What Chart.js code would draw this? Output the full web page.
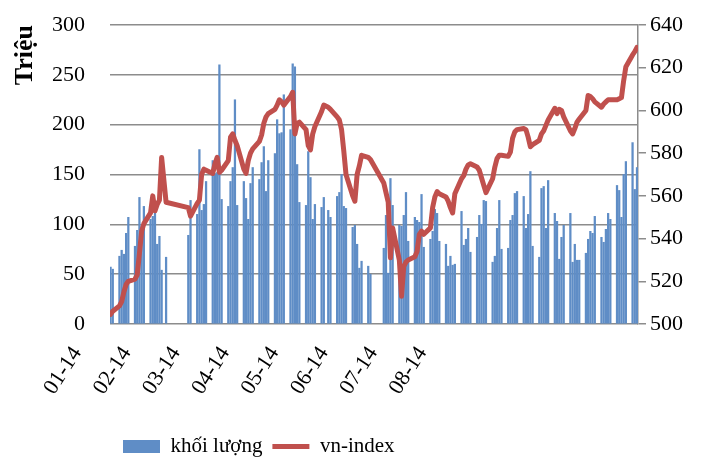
<!DOCTYPE html>
<html>
<head>
<meta charset="utf-8">
<script src="https://cdn.jsdelivr.net/npm/chart.js@4/dist/chart.umd.min.js"></script>
<style>
  html, body { margin: 0; padding: 0; background: #fff; overflow: hidden; }
  canvas { display: block; }
</style>
</head>
<body>
<canvas id="chart" width="715" height="467"></canvas>
<script>
// Ngày giao dịch năm 2014 (tháng-ngày)
const ngay = [
  '01-02','01-03','01-06','01-07','01-08','01-09','01-10','01-13','01-14','01-15','01-16','01-17',
  '01-20','01-21','01-22','01-23','01-24','01-25','01-27',
  '02-06','02-07','02-10','02-11','02-12','02-13','02-14','02-17','02-18','02-19','02-20','02-21',
  '02-24','02-25','02-26','02-27','02-28',
  '03-03','03-04','03-05','03-06','03-07','03-10','03-11','03-12','03-13','03-14',
  '03-17','03-18','03-19','03-20','03-21','03-24','03-25','03-26','03-27','03-28','03-31',
  '04-01','04-02','04-03','04-04','04-07','04-08','04-10','04-11','04-14','04-15','04-16','04-17','04-18',
  '04-21','04-22','04-23','04-24','04-25','04-28','04-29',
  '05-05','05-06','05-07','05-08','05-09','05-12','05-13','05-14','05-15','05-16',
  '05-19','05-20','05-21','05-22','05-23','05-26','05-27','05-28','05-29','05-30',
  '06-02','06-03','06-04','06-05','06-06','06-09','06-10','06-11','06-12','06-13',
  '06-16','06-17','06-18','06-19','06-20','06-23','06-24','06-25','06-26','06-27',
  '06-30','07-01','07-02','07-03','07-04','07-07','07-08','07-09','07-10','07-11',
  '07-14','07-15','07-16','07-17','07-18','07-21','07-22','07-23','07-24','07-25',
  '07-28','07-29','07-30','07-31','08-01','08-04','08-05','08-06','08-07','08-08',
  '08-11','08-12','08-13','08-14','08-15','08-18','08-19','08-20','08-21','08-22',
  '08-25','08-26','08-27'
];

// Khối lượng (triệu cổ phiếu)
const khoiLuong = [
  57, 55, 68, 74, 70, 91, 107, 78, 94, 127, 98, 118,
  105, 108, 115, 80, 88, 54, 67,
  89, 124, 110, 175, 114, 120, 143, 164, 151, 152, 260, 125,
  118, 143, 157, 225, 119,
  143, 126, 105, 141, 157, 145, 162, 178, 133, 164,
  171, 205, 191, 192, 230, 195, 261, 258, 160, 122, 119,
  173, 147, 105, 120, 117, 127, 114, 107, 128, 132, 150, 118, 116,
  97, 99, 80, 56, 63, 58, 50,
  76, 109, 51, 146, 119, 99, 98, 109, 132, 83,
  107, 104, 102, 130, 77, 85, 93, 115, 111, 83,
  80, 58, 68, 59, 60, 113, 79, 85, 96, 72,
  87, 109, 100, 124, 123, 62, 68, 96, 124, 75,
  76, 104, 109, 131, 133, 128, 96, 110, 153, 78,
  67, 136, 138, 96, 144, 111, 103, 65, 87, 99,
  111, 62, 80, 64, 64, 71, 85, 93, 91, 108,
  87, 82, 95, 111, 105, 139, 134, 107, 150, 163,
  182, 135, 157
];

// VN-Index (điểm)
const vnIndex = [
  504.5, 506, 508.5, 510.5, 515, 518.5, 520, 521, 523, 533, 543.5, 547,
  552, 560, 553, 556, 558, 578, 557,
  554.5, 550.5, 556.5, 558, 570, 572.5, 572, 570.5, 575, 578, 571, 572,
  576.5, 587.5, 589, 586, 583.5,
  572.5, 570.5, 576.5, 580, 582, 585.5, 588.5, 594, 597, 598.5,
  600.5, 602.5, 605, 604, 602.5, 606.5, 608.5, 589, 594, 594.5, 591,
  583.5, 581.5, 589, 592.5, 599.5, 602.5, 601.5, 600.5, 597, 595.5, 591, 581, 570,
  560, 557.5, 570, 574, 579, 578, 577,
  566, 561.5, 557, 531, 545, 530, 513, 527, 529, 530,
  531.5, 534, 542, 543.5, 542, 545, 554.5, 559.5, 562, 561,
  559.5, 557.5, 554.5, 552, 561, 568, 569.5, 572.5, 574.5, 575,
  573.5, 572, 568.5, 565, 561.5, 568, 573.5, 577.5, 579, 579,
  578.5, 580.5, 587, 590, 591, 591.5, 591, 587.5, 583, 584,
  586, 589, 590.5, 593, 595.5, 601, 598.5, 600.5, 600, 597,
  590.5, 589, 591.5, 594.5, 596, 600, 607, 606.5, 605.5, 604,
  601.5, 603, 604, 605, 605, 605, 605.5, 606, 614, 620.5,
  626, 627.5, 629.5
];

const nhanTrucX = ['01-14', '02-14', '03-14', '04-14', '05-14', '06-14', '07-14', '08-14'];

const serif = "'Liberation Serif', 'Times New Roman', serif";
Chart.defaults.font.family = serif;
Chart.defaults.color = '#000';

// số ngày tính từ 01-01-2014
function soNgay(md) {
  const [m, d] = md.split('-').map(Number);
  return (Date.UTC(2014, m - 1, d) - Date.UTC(2014, 0, 1)) / 86400000;
}
const xNgay = ngay.map(soNgay);

// dời chú giải sang trái như hình gốc
const dichChuGiai = {
  id: 'dichChuGiai',
  afterLayout(chart) {
    const lg = chart.legend;
    const w = lg.right - lg.left;
    lg.left = 113;
    lg.right = lg.left + w;
  }
};

const ctx = document.getElementById('chart').getContext('2d');
new Chart(ctx, {
  type: 'bar',
  data: {
    datasets: [{
      type: 'bar',
      label: 'khối lượng',
      data: xNgay.map((x, i) => ({ x: x, y: khoiLuong[i] })),
      backgroundColor: '#5f8dc6',
      barThickness: 1.6,
      yAxisID: 'y',
      order: 2,
      pointStyle: 'rect'
    }, {
      type: 'line',
      label: 'vn-index',
      data: xNgay.map((x, i) => ({ x: x, y: vnIndex[i] })),
      borderColor: '#c0504d',
      backgroundColor: '#c0504d',
      borderWidth: 5,
      pointRadius: 0,
      tension: 0,
      borderJoinStyle: 'round',
      borderCapStyle: 'round',
      yAxisID: 'y1',
      order: 1,
      pointStyle: 'line'
    }]
  },
  options: {
    responsive: false,
    animation: false,
    layout: { padding: { top: 25 } },
    scales: {
      x: {
        type: 'linear',
        offset: false,
        min: 0.75,
        max: 238.45,
        grid: { display: false, drawTicks: false },
        border: { display: false },
        afterBuildTicks: (s) => {
          s.ticks = nhanTrucX.map((_, i) => ({ value: 4 + i * 22.2 }));
        },
        afterFit: (s) => { s.height = 102; },
        ticks: {
          autoSkip: false,
          minRotation: 57,
          maxRotation: 57,
          labelOffset: -40,
          padding: 18,
          font: { size: 22 },
          callback: (v, i) => nhanTrucX[i]
        }
      },
      y: {
        position: 'left',
        min: 0,
        max: 300,
        grid: { color: '#8c8c8c', lineWidth: 1.5, drawTicks: true, tickLength: 20, tickColor: 'rgba(0,0,0,0)' },
        border: { display: false },
        afterFit: (s) => { s.width = 110; },
        ticks: { stepSize: 50, padding: 5, font: { size: 22 } },
        title: {
          display: true,
          text: 'Triệu',
          align: 'end',
          font: { size: 26, weight: 'bold' },
          padding: { top: 10, bottom: 0 }
        }
      },
      y1: {
        position: 'right',
        min: 500,
        max: 640,
        grid: { drawOnChartArea: false, color: '#8c8c8c', lineWidth: 1.5, tickLength: 8 },
        border: { display: true, color: '#8c8c8c', width: 1.5 },
        afterFit: (s) => { s.width = 77; },
        ticks: { stepSize: 20, padding: 4, font: { size: 22 } }
      }
    },
    plugins: {
      tooltip: { enabled: false },
      legend: {
        position: 'bottom',
        align: 'start',
        labels: {
          usePointStyle: true,
          pointStyleWidth: 37,
          boxHeight: 13,
          padding: 10,
          font: { size: 21 },
          sort: (a, b) => a.datasetIndex - b.datasetIndex
        }
      }
    }
  },
  plugins: [dichChuGiai]
});
</script>
</body>
</html>
